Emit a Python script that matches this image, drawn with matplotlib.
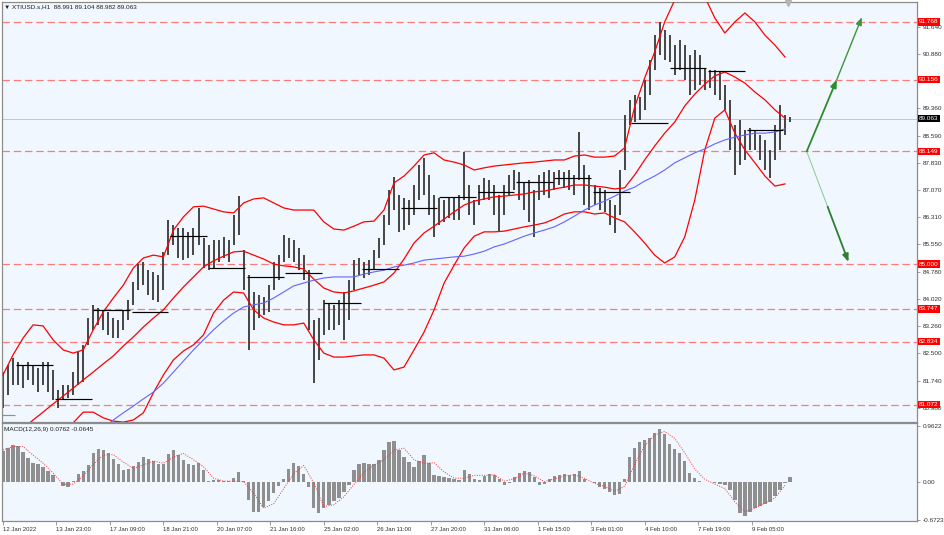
import numpy as np
import matplotlib
matplotlib.use('Agg')
import matplotlib.pyplot as plt

plt.rcParams['font.family'] = ['Liberation Sans', 'DejaVu Sans']

# ---------------- data ----------------
title_text = '\u25bc XTIUSD.s,H1  88.991 89.104 88.982 89.063'
macd_text = 'MACD(12,26,9) 0.0762 -0.0645'
current_price = 89.063

sample_bars = 3     # one price sample every 3 hourly bars
band_bars = 6       # one band sample every 6 hourly bars

price_high = [81.98, 82.18, 82.37, 82.26, 82.18, 82.26, 82.18, 82.09, 82.26, 82.26,
              82.04, 81.48, 81.62, 81.62, 81.98, 82.54, 82.74, 83.49, 83.86, 83.77,
              83.72, 83.66, 83.49, 83.44, 83.72, 83.99, 84.50, 85.00, 85.06, 84.83,
              84.78, 84.69, 85.34, 86.23, 86.09, 86.01, 86.01, 85.90, 86.01, 86.57,
              85.73, 85.53, 85.67, 85.67, 85.76, 85.67, 86.37, 86.90, 85.39, 84.69,
              84.22, 84.13, 84.08, 84.41, 85.06, 85.25, 85.81, 85.73, 85.67, 85.45,
              85.25, 84.83, 83.44, 83.49, 83.99, 83.91, 83.86, 83.99, 84.22, 84.55,
              85.11, 85.17, 85.06, 85.11, 85.39, 85.73, 86.37, 87.07, 87.43, 86.93,
              86.85, 86.79, 87.21, 87.77, 87.97, 87.49, 86.93, 86.85, 86.79, 86.88,
              86.85, 86.93, 88.13, 87.21, 86.79, 87.21, 87.41, 87.35, 87.21, 86.93,
              87.21, 87.49, 87.63, 87.57, 87.29, 87.35, 87.07, 87.49, 87.57, 87.63,
              87.57, 87.63, 87.57, 87.63, 87.49, 88.69, 87.77, 87.49, 87.21, 87.13,
              87.07, 86.79, 86.65, 87.63, 89.17, 89.59, 89.73, 89.67, 90.15, 90.71,
              91.40, 91.77, 91.54, 91.40, 91.12, 91.26, 91.12, 90.85, 90.98, 90.85,
              90.48, 90.43, 90.43, 90.37, 90.01, 89.59, 88.89, 89.03, 88.75, 88.80,
              88.75, 88.61, 88.47, 88.19, 88.89, 89.45, 89.17, 89.10]

price_low = [80.98, 81.34, 81.62, 81.62, 81.53, 81.76, 81.62, 81.42, 81.62, 81.42,
             81.20, 80.98, 81.20, 81.25, 81.34, 81.62, 81.70, 82.74, 83.16, 83.30,
             83.16, 83.02, 82.93, 82.93, 83.16, 83.44, 83.86, 84.27, 84.41, 84.13,
             83.99, 83.94, 84.27, 85.25, 85.53, 85.17, 85.11, 85.17, 85.25, 85.53,
             84.89, 84.83, 84.89, 85.06, 85.17, 85.06, 85.53, 85.81, 84.27, 82.60,
             83.16, 83.49, 83.58, 83.66, 84.27, 84.55, 85.06, 85.17, 85.06, 84.83,
             84.55, 83.16, 81.67, 82.32, 83.02, 83.16, 83.16, 83.30, 82.88, 83.44,
             84.27, 84.69, 84.61, 84.69, 84.83, 85.17, 85.53, 86.09, 86.51, 85.90,
             85.95, 86.09, 86.37, 86.79, 86.93, 86.37, 85.76, 86.09, 86.18, 86.29,
             86.23, 86.23, 86.79, 86.37, 86.09, 86.65, 86.79, 86.79, 86.37, 85.90,
             86.37, 86.93, 87.07, 86.79, 86.51, 86.18, 85.76, 86.79, 86.93, 86.85,
             87.07, 87.21, 87.13, 87.07, 86.93, 87.35, 86.65, 86.51, 86.65, 86.51,
             86.46, 86.09, 85.87, 86.37, 87.63, 88.89, 88.97, 89.03, 89.31, 89.73,
             90.43, 90.85, 90.71, 90.65, 90.29, 90.43, 90.15, 89.73, 89.87, 90.01,
             89.87, 89.92, 89.73, 89.59, 89.31, 88.19, 87.49, 87.77, 87.91, 88.19,
             88.19, 87.91, 87.63, 87.41, 87.91, 88.19, 88.61, 88.98]

band_upper = [81.90, 82.46, 82.93, 83.30, 83.27, 82.88, 82.60, 82.51, 82.60, 83.16,
              83.66, 84.05, 84.41, 84.89, 85.17, 85.25, 85.20, 85.95, 86.32, 86.60,
              86.62, 86.54, 86.46, 86.43, 86.71, 86.82, 86.85, 86.71, 86.57, 86.51,
              86.51, 86.51, 86.18, 85.98, 85.95, 86.06, 86.18, 86.20, 86.51, 87.27,
              87.46, 87.74, 88.05, 88.11, 87.91, 87.85, 87.77, 87.63, 87.69, 87.74,
              87.77, 87.80, 87.83, 87.85, 87.88, 87.91, 87.91, 88.02, 88.05, 87.99,
              87.99, 88.02, 88.25, 89.39, 90.20, 90.93, 91.77, 92.38, 92.80, 92.89,
              92.47, 91.88, 91.46, 91.77, 92.02, 91.77, 91.40, 91.12, 90.79]

band_mid = [79.94, 80.16, 80.39, 80.64, 80.86, 81.09, 81.31, 81.53, 81.76, 81.98,
            82.21, 82.43, 82.71, 82.96, 83.24, 83.49, 83.72, 84.05, 84.36, 84.64,
            84.92, 85.09, 85.22, 85.34, 85.36, 85.25, 85.14, 85.00, 84.95, 84.92,
            84.86, 84.58, 84.33, 84.22, 84.19, 84.25, 84.33, 84.41, 84.50, 84.75,
            85.14, 85.59, 85.87, 86.06, 86.26, 86.46, 86.65, 86.76, 86.82, 86.88,
            86.90, 86.93, 86.96, 87.02, 87.04, 87.10, 87.15, 87.21, 87.21, 87.18,
            87.15, 87.10, 87.13, 87.49, 87.91, 88.30, 88.66, 88.97, 89.42, 89.75,
            90.03, 90.26, 90.37, 90.23, 90.06, 89.81, 89.59, 89.31, 89.08]

band_lower = [78.00, 77.87, 77.84, 77.98, 78.46, 79.30, 80.03, 80.56, 80.86, 80.86,
              80.70, 80.61, 80.58, 80.64, 80.84, 81.40, 81.90, 82.32, 82.57, 82.74,
              83.02, 83.63, 83.99, 84.22, 84.19, 83.72, 83.49, 83.38, 83.30, 83.30,
              83.35, 82.88, 82.51, 82.40, 82.40, 82.43, 82.46, 82.46, 82.37, 82.04,
              82.12, 82.60, 83.10, 83.72, 84.47, 84.97, 85.45, 85.78, 85.90, 85.90,
              85.92, 85.98, 86.04, 86.09, 86.15, 86.26, 86.40, 86.46, 86.46, 86.40,
              86.43, 86.29, 86.18, 85.90, 85.59, 85.25, 85.03, 85.20, 85.76, 86.79,
              88.19, 89.08, 89.31, 88.66, 88.19, 87.83, 87.46, 87.18, 87.24]

ma_first_sample = 10
ma_blue = [80.42, 80.64, 80.84, 81.03, 81.23, 81.42, 81.67, 81.98, 82.29, 82.60,
           82.88, 83.16, 83.41, 83.63, 83.80, 83.86, 83.91, 84.05, 84.22, 84.39,
           84.47, 84.55, 84.61, 84.64, 84.64, 84.64, 84.72, 84.78, 84.83, 84.92,
           84.97, 85.03, 85.11, 85.14, 85.17, 85.20, 85.22, 85.28, 85.36, 85.48,
           85.56, 85.67, 85.78, 85.87, 85.95, 86.04, 86.18, 86.34, 86.51, 86.65,
           86.76, 86.90, 87.04, 87.15, 87.32, 87.46, 87.63, 87.83, 87.97, 88.11,
           88.22, 88.36, 88.47, 88.55, 88.61, 88.66, 88.66, 88.69, 88.78]

day_start = [-1, 8, 31, 54, 77, 100, 123, 146, 169, 192, 215, 238, 261, 284, 307,
             330, 353, 376, 399, 422, 445]
day_len = [8] + [22] * 20
day_level = [80.78, 82.18, 81.23, 83.72, 83.66, 85.78, 84.89, 84.64, 84.75, 83.91,
             84.86, 86.57, 86.88, 87.02, 87.29, 87.41, 87.02, 88.94, 90.48, 90.40, 88.75]

macd_hist = [0.53, 0.59, 0.63, 0.61, 0.52, 0.41, 0.32, 0.30, 0.25, 0.19,
             0.12, -0.01, -0.07, -0.09, 0.01, 0.14, 0.18, 0.29, 0.49, 0.57,
             0.55, 0.50, 0.40, 0.30, 0.20, 0.22, 0.27, 0.34, 0.43, 0.40,
             0.36, 0.30, 0.30, 0.48, 0.55, 0.46, 0.38, 0.31, 0.29, 0.32,
             0.20, 0.02, 0.03, 0.03, 0.02, 0.01, 0.06, 0.17, 0.02, -0.32,
             -0.52, -0.52, -0.43, -0.33, -0.20, -0.07, 0.04, 0.22, 0.32, 0.28,
             0.14, -0.09, -0.45, -0.54, -0.46, -0.40, -0.34, -0.28, -0.17, -0.05,
             0.20, 0.30, 0.32, 0.30, 0.31, 0.38, 0.55, 0.68, 0.71, 0.55,
             0.42, 0.34, 0.26, 0.35, 0.46, 0.32, 0.12, 0.10, 0.08, 0.06,
             0.05, 0.03, 0.20, 0.14, 0.05, 0.03, 0.10, 0.14, 0.12, 0.04,
             -0.06, -0.02, 0.08, 0.15, 0.18, 0.16, 0.08, -0.05, -0.04, 0.04,
             0.10, 0.12, 0.13, 0.11, 0.14, 0.19, 0.05, -0.01, -0.03, -0.09,
             -0.13, -0.17, -0.23, -0.22, 0.05, 0.43, 0.58, 0.69, 0.72, 0.76,
             0.84, 0.91, 0.82, 0.66, 0.57, 0.50, 0.36, 0.15, 0.06, 0.02,
             0.00, 0.00, -0.02, -0.04, -0.06, -0.14, -0.32, -0.55, -0.60, -0.52,
             -0.46, -0.42, -0.38, -0.35, -0.25, -0.14, -0.03, 0.0762]

macd_signal = [0.55, 0.61, 0.61, 0.46, 0.32, 0.15, -0.05, -0.04, 0.10, 0.30,
               0.46, 0.47, 0.34, 0.23, 0.29, 0.36, 0.32, 0.43, 0.49, 0.38,
               0.26, 0.06, 0.01, 0.01, 0.00, -0.20, -0.46, -0.38, -0.12, 0.14,
               0.28, -0.02, -0.43, -0.40, -0.26, -0.05, 0.16, 0.29, 0.38, 0.55,
               0.58, 0.38, 0.32, 0.33, 0.17, 0.06, 0.06, 0.11, 0.11, 0.12,
               0.01, 0.05, 0.15, 0.10, 0.00, 0.05, 0.10, 0.12, 0.06, -0.03,
               -0.08, -0.17, -0.08, 0.30, 0.62, 0.81, 0.87, 0.75, 0.50, 0.22,
               0.04, -0.04, -0.12, -0.35, -0.52, -0.46, -0.37, -0.28, -0.0645]

levels = [91.768, 90.156, 88.149, 85.000, 83.747, 82.834, 81.072]
price_ticks = [91.640, 90.880, 90.120, 89.360, 88.590, 87.830, 87.070, 86.310,
               85.550, 84.780, 84.020, 83.260, 82.500, 81.740, 80.980]
hidden_price_ticks = [90.120]   # fully covered by the 90.156 level box in the reference
macd_ticks = [0.9622, 0.0, -0.6723]
macd_tick_labels = ['0.9622', '0.00', '-0.6723']

date_every = 32
date_labels = ['12 Jan 2022', '13 Jan 23:00', '17 Jan 09:00', '18 Jan 21:00',
               '20 Jan 07:00', '21 Jan 16:00', '25 Jan 02:00', '26 Jan 11:00',
               '27 Jan 20:00', '31 Jan 06:00', '1 Feb 15:00', '3 Feb 01:00',
               '4 Feb 10:00', '7 Feb 19:00', '9 Feb 05:00']

# projection arrows (bar index, price)
arrow_start = (481, 88.149)
arrow_mid = (499, 90.156)
arrow_up_end = (514, 91.90)
arrow_down_end = (506, 85.06)

# ---------------- figure ----------------
W, H = 945, 535
BG = '#f0f7fe'
fig = plt.figure(figsize=(W / 100, H / 100), dpi=100, facecolor='white')
ax = fig.add_axes([2 / W, 1 - 422 / H, 915 / W, 420 / H], facecolor=BG)
ax2 = fig.add_axes([2 / W, 1 - 521 / H, 915 / W, 98 / H], facecolor=BG, sharex=ax)

xs = np.arange(len(price_high)) * sample_bars
xb = np.arange(len(band_mid)) * band_bars

for a in (ax, ax2):
    for s in a.spines.values():
        s.set_color('#8c8c8c')
        s.set_linewidth(0.9)

ax.set_xlim(-0.6, 547.0)
ax.set_ylim(80.584, 92.327)

# level lines
for lv in levels:
    ax.axhline(lv, color='#ff7a7a', lw=0.9, ls=(0, (6, 3)), zorder=1)
ax.axhline(current_price, color='#c4c8cc', lw=0.7, zorder=1)

# bands and moving average
ax.plot(xb, band_upper, color='#ff0000', lw=0.9, zorder=3)
ax.plot(xb, band_mid, color='#ff0000', lw=0.9, zorder=3)
ax.plot(xb, band_lower, color='#ff0000', lw=0.9, zorder=3)
ax.plot(xb[ma_first_sample:], ma_blue, color='#6464ff', lw=0.8, zorder=3)

# price bars
ax.vlines(xs, price_low, price_high, color='#454545', lw=1.4, zorder=2)

# daily level segments
for i, (st, ln, lv) in enumerate(zip(day_start, day_len, day_level)):
    ax.hlines(lv, st, st + ln, color='#909090' if i == 0 else '#000000', lw=0.85, zorder=4)

# arrows
ax.annotate('', xy=arrow_mid, xytext=arrow_start,
            arrowprops=dict(arrowstyle='-|>,head_length=0.45,head_width=0.18',
                            color='#2f8a2f', lw=1.3, shrinkA=0, shrinkB=0))
ax.annotate('', xy=arrow_up_end, xytext=arrow_mid,
            arrowprops=dict(arrowstyle='-|>,head_length=0.45,head_width=0.18',
                            color='#3c963c', lw=1.0, shrinkA=0, shrinkB=0))
mid_down = ((arrow_start[0] + arrow_down_end[0]) / 2, (arrow_start[1] + arrow_down_end[1]) / 2)
ax.plot([arrow_start[0], mid_down[0]], [arrow_start[1], mid_down[1]], color='#8cc88c', lw=0.7)
ax.annotate('', xy=arrow_down_end, xytext=mid_down,
            arrowprops=dict(arrowstyle='-|>,head_length=0.45,head_width=0.18',
                            color='#2f7d2f', lw=1.3, shrinkA=0, shrinkB=0))

# chart shift marker
ax.plot([470], [92.30], marker='v', ms=4, color='#b4b4b4', clip_on=False, zorder=6)

# right price axis
ax.yaxis.tick_right()
ax.set_yticks(price_ticks)
ax.set_yticklabels(['' if t in hidden_price_ticks else '%.3f' % t for t in price_ticks])
ax.tick_params(axis='y', direction='out', length=2.5, width=0.6, pad=1.5,
               labelsize=4.6, colors='#8c8c8c', labelcolor='#303030')
ax.tick_params(axis='x', bottom=False, labelbottom=False)

for lv in levels:
    ax.annotate('%.3f' % lv, xy=(1, lv), xycoords=('axes fraction', 'data'),
                xytext=(1.6, 0), textcoords='offset points', va='center', ha='left',
                fontsize=4.6, color='white', annotation_clip=False, zorder=10,
                bbox=dict(boxstyle='square,pad=0.18', fc='#ff0000', ec='none'))
ax.annotate('%.3f' % current_price, xy=(1, current_price), xycoords=('axes fraction', 'data'),
            xytext=(1.6, 0), textcoords='offset points', va='center', ha='left',
            fontsize=4.6, color='white', annotation_clip=False, zorder=10,
            bbox=dict(boxstyle='square,pad=0.18', fc='#000000', ec='none'))

# MACD panel
ax2.bar(xs, macd_hist, width=2.0, color='#8f8f8f', linewidth=0, zorder=2)
ax2.plot(xb, macd_signal, color='#ff3030', lw=0.7, ls=(0, (1, 1.5)), zorder=3)
ax2.set_ylim(-0.681, 1.017)
ax2.yaxis.tick_right()
ax2.set_yticks(macd_ticks)
ax2.set_yticklabels(macd_tick_labels)
ax2.tick_params(axis='y', direction='out', length=2.5, width=0.6, pad=1.5,
                labelsize=4.6, colors='#8c8c8c', labelcolor='#303030')
date_pos = np.arange(len(date_labels)) * date_every
ax2.set_xticks(date_pos)
ax2.set_xticklabels(date_labels)
ax2.tick_params(axis='x', direction='out', length=3, width=0.6, pad=1.5,
                labelsize=4.3, colors='#8c8c8c', labelcolor='#303030')
for lbl in ax2.get_xticklabels():
    lbl.set_ha('left')

# texts
fig.text(4 / W, 1 - 7 / H, title_text, fontsize=4.6, color='#202020', va='center', ha='left')
fig.text(4 / W, 1 - 429 / H, macd_text, fontsize=4.6, color='#202020', va='center', ha='left')

fig.savefig('out.png', dpi=100, facecolor='white')
